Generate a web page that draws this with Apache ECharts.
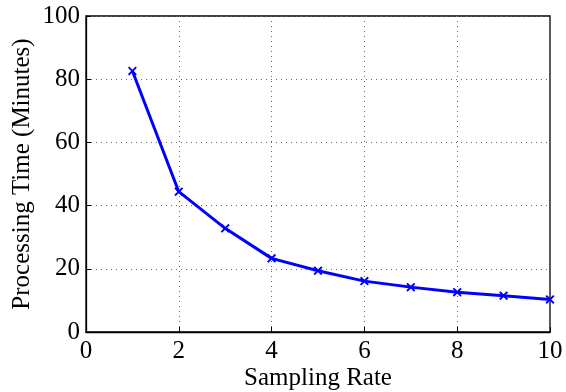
<!DOCTYPE html>
<html><head><meta charset="utf-8">
<script src="https://cdn.jsdelivr.net/npm/echarts@6/dist/echarts.min.js"></script>
<style>html,body{margin:0;padding:0;background:#fff}#c{width:566px;height:392px}</style>
</head><body><div id="c"></div>
<script>
const samplingRate = [1, 2, 3, 4, 5, 6, 7, 8, 9, 10];
const processingTime = [82.6, 44.4, 32.8, 23.3, 19.4, 16.1, 14.2, 12.6, 11.5, 10.3];
const xTicks = [0, 2, 4, 6, 8, 10];
const yTicks = [0, 20, 40, 60, 80, 100];

const font = '"Liberation Serif", "DejaVu Serif", serif';
const chart = echarts.init(document.getElementById('c'));
const crossPath = 'path://M0,1.5L1.5,0L5,3.5L8.5,0L10,1.5L6.5,5L10,8.5L8.5,10L5,6.5L1.5,10L0,8.5L3.5,5Z';
const axisCommon = {
  axisLine: {show: true, lineStyle: {color: '#000', width: 1.3}},
  axisTick: {show: true, inside: true, length: 5, lineStyle: {color: '#000'}},
  splitLine: {show: true, lineStyle: {color: '#666', type: [1, 4], width: 1}}
};
chart.setOption({
  animation: false,
  grid: {left: 86, right: 16, top: 16, bottom: 60, show: true, borderColor: '#000', borderWidth: 1.3,
         outerBoundsMode: 'none', containLabel: false},
  xAxis: Object.assign({
    type: 'value', min: 0, max: 10, interval: 2,
    name: 'Sampling Rate', nameLocation: 'middle', nameGap: 34, nameMoveOverlap: false,
    nameTextStyle: {color: '#000', fontFamily: font, fontSize: 25},
  }, axisCommon, {axisLabel: {color: '#000', fontFamily: font, fontSize: 25, margin: 7,
    formatter: v => xTicks.includes(v) ? String(v) : ''}}),
  yAxis: Object.assign({
    type: 'value', min: 0, max: 100, interval: 20,
    name: 'Processing Time (Minutes)', nameLocation: 'middle', nameGap: 51, nameMoveOverlap: false,
    nameTextStyle: {color: '#000', fontFamily: font, fontSize: 25},
  }, axisCommon, {axisLabel: {color: '#000', fontFamily: font, fontSize: 25, margin: 6,
    formatter: v => yTicks.includes(v) ? String(v) : ''}}),
  series: [{
    type: 'line',
    data: samplingRate.map((x, i) => [x, processingTime[i]]),
    lineStyle: {color: '#0000ff', width: 3},
    itemStyle: {color: '#0000ff'},
    symbol: crossPath, symbolSize: 9, showSymbol: true
  }]
});
</script></body></html>
